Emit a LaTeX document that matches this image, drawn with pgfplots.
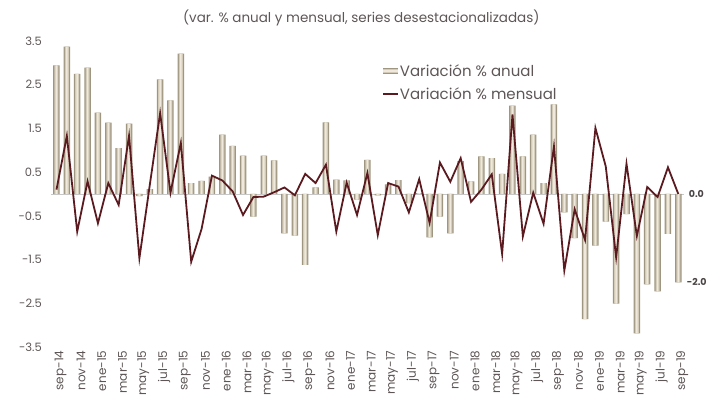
\documentclass[border=0pt]{standalone}
\usepackage{fontspec}
\setmainfont{Poppins}
\usepackage{pgfplots}
\usepackage{pgfplotstable}
\pgfplotsset{compat=1.18}
\definecolor{linec}{HTML}{5A1A20}
\definecolor{barE}{HTML}{9E9681}
\definecolor{barM}{HTML}{D3CBB8}
\definecolor{barL}{HTML}{EEE9DC}
\definecolor{txt}{HTML}{5E5656}
\definecolor{lbl}{HTML}{4A4444}
\pgfplotstableread{
i anual mensual
0 2.94 0.10
1 3.37 1.33
2 2.75 -0.86
3 2.89 0.29
4 1.86 -0.67
5 1.63 0.25
6 1.05 -0.25
7 1.61 1.33
8 -0.05 -1.47
9 0.11 0.20
10 2.62 1.85
11 2.14 0.03
12 3.21 1.17
13 0.25 -1.55
14 0.30 -0.80
15 0.40 0.42
16 1.36 0.31
17 1.10 0.06
18 0.88 -0.48
19 -0.52 -0.07
20 0.88 -0.06
21 0.77 0.04
22 -0.90 0.15
23 -0.95 -0.03
24 -1.62 0.46
25 0.15 0.25
26 1.64 0.67
27 0.33 -0.86
28 0.31 0.26
29 -0.13 -0.48
30 0.78 0.48
31 -0.03 -0.94
32 0.22 0.25
33 0.32 0.17
34 -0.21 -0.42
35 0.02 0.34
36 -0.99 -0.66
37 -0.52 0.72
38 -0.90 0.28
39 0.75 0.82
40 0.29 -0.18
41 0.86 0.10
42 0.82 0.45
43 0.46 -1.37
44 2.02 1.82
45 0.86 -0.97
46 1.36 0.03
47 0.25 -0.68
48 2.05 1.09
49 -0.42 -1.75
50 -1.01 -0.35
51 -2.86 -1.05
52 -1.18 1.51
53 -0.63 0.63
54 -2.51 -1.45
55 -0.46 0.69
56 -3.19 -0.96
57 -2.07 0.16
58 -2.23 -0.07
59 -0.91 0.61
60 -2.02 0.00
}\datatable
\begin{document}
\begin{tikzpicture}
\path[use as bounding box] (-51.3pt,-56pt) rectangle (663.7pt,347pt);
\begin{axis}[
  at={(0pt,0pt)}, anchor=south west,
  scale only axis, width=632.2pt, height=306pt,
  xmin=-0.5, xmax=60.5, ymin=-3.5, ymax=3.5,
  axis line style={draw=none},
  major tick length=0pt,
  xtick={0,2,...,60},
  xticklabels={sep-14,nov-14,ene-15,mar-15,may-15,jul-15,sep-15,nov-15,ene-16,mar-16,may-16,jul-16,sep-16,nov-16,ene-17,mar-17,may-17,jul-17,sep-17,nov-17,ene-18,mar-18,may-18,jul-18,sep-18,nov-18,ene-19,mar-19,may-19,jul-19,sep-19},
  xticklabel style={rotate=90, anchor=east, font=\fontsize{12}{13}\selectfont, text=txt, yshift=-4pt},
  ytick={-3.5,-2.5,...,3.5},
  yticklabels={-3.5,-2.5,-1.5,-0.5,0.5,1.5,2.5,3.5},
  yticklabel style={font=\fontsize{11.5}{12}\selectfont, text=txt, xshift=-6pt},
  extra y ticks={0}, extra y tick labels={},
  extra y tick style={grid=major, major grid style={draw=black!22, line width=0.6pt}},
  clip=false,
  legend style={at={(0.523,0.928)}, anchor=north west, draw=none, fill=none,
    font=\fontsize{15}{16}\selectfont, text=txt, row sep=8pt,
    inner sep=0pt, nodes={inner sep=1pt}},
  legend cell align=left,
]
\addplot[ybar, bar width=6.5pt, draw=none, fill=barE,
  legend image code/.code={\fill[barE] (0pt,-3pt) rectangle (15pt,3pt);\fill[barM] (0pt,-1.8pt) rectangle (15pt,1.8pt);\fill[barL] (0pt,-0.7pt) rectangle (15pt,0.7pt);}]
  table[x=i, y=anual] {\datatable};
\addlegendentry{Variación \% anual}
\addplot[ybar, bar width=4pt, draw=none, fill=barM, forget plot]
  table[x=i, y=anual] {\datatable};
\addplot[ybar, bar width=1.6pt, draw=none, fill=barL, forget plot]
  table[x=i, y=anual] {\datatable};
\addplot[linec, line width=1.8pt, mark=none,
  legend image code/.code={\draw[linec, line width=1.8pt] (0pt,0pt) -- (15pt,0pt);}]
  table[x=i, y=mensual] {\datatable};
\addlegendentry{Variación \% mensual}
\node[anchor=west, font=\bfseries\fontsize{9.5}{10}\selectfont, text=lbl, xshift=7pt] at (axis cs:60,0) {0.0};
\node[anchor=west, font=\bfseries\fontsize{9.5}{10}\selectfont, text=lbl, xshift=5pt] at (axis cs:60,-2.02) {-2.0};
\end{axis}
\node[font=\fontsize{13.5}{14}\selectfont, text=txt] at (310pt,329pt) {(var. \% anual y mensual, series desestacionalizadas)};
\end{tikzpicture}
\end{document}
